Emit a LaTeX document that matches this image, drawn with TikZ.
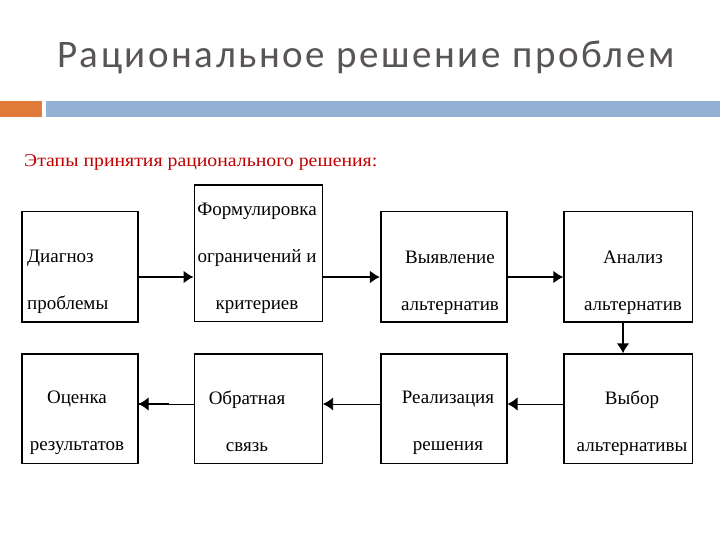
\documentclass[tikz,border=0pt]{standalone}
\usepackage{fontspec}
\setmainfont{Liberation Serif}
\newfontfamily\titlefont[LetterSpace=6.5]{Carlito}
\newfontfamily\wideserif[FakeStretch=1.1]{Liberation Serif}
\usetikzlibrary{arrows.meta}

\definecolor{titlegray}{HTML}{5A5555}
\definecolor{barorange}{HTML}{E07B39}
\definecolor{barblue}{HTML}{93B1D4}
\definecolor{subred}{HTML}{C00000}

\tikzset{
	stage/.style={draw, line width=1.6pt, inner sep=0pt},
	stagetext/.style={font=\fontsize{19}{47}\selectfont, align=center, inner sep=0pt},
	flow/.style={-{Latex[length=10pt,width=13pt]}, line width=1.8pt},
	back/.style={-{Latex[length=10pt,width=13pt]}, line width=0.8pt}
}

\begin{document}
\begin{tikzpicture}[x=1pt, y=-1pt]
	\useasboundingbox (0,0) rectangle (720,540);

	% title and bar
	\node[font=\titlefont\fontsize{39}{39}\selectfont, text=titlegray, anchor=base west, inner sep=0pt] (title) at (57,68) {Рациональное решение проблем};
	\fill[barorange] (0,101) rectangle (42,117);
	\fill[barblue] (46,101) rectangle (720,117);

	\node[font=\wideserif\fontsize{18}{18}\selectfont, text=subred, anchor=west, inner sep=0pt] (stages) at (24,162) {Этапы принятия рационального решения:};

	% first row
	\node[stage, minimum width=116pt, minimum height=110pt] (diag) at (79.7,266.7) {};
	\node[stage, minimum width=128pt, minimum height=136.7pt] (form) at (258.3,253.3) {};
	\node[stage, minimum width=126pt, minimum height=110pt] (reveal) at (443.7,266.7) {};
	\node[stage, minimum width=128.3pt, minimum height=110pt] (anal) at (628.2,266.7) {};

	% second row
	\node[stage, minimum width=116pt, minimum height=109.3pt] (assess) at (79.7,408.7) {};
	\node[stage, minimum width=128pt, minimum height=109.3pt] (feedback) at (258.3,408.7) {};
	\node[stage, minimum width=126pt, minimum height=109.3pt] (impl) at (443.7,408.7) {};
	\node[stage, minimum width=128.3pt, minimum height=109.3pt] (choice) at (628.2,408.7) {};

	% texts
	\node[stagetext, align=left, anchor=west] (diag-t) at (27,282) {Диагноз\\проблемы};
	\node[stagetext] (form-t) at (257,258) {Формулировка\\ограничений и\\критериев};
	\node[stagetext] (reveal-t) at (450,283) {Выявление\\альтернатив};
	\node[stagetext] (anal-t) at (633,283) {Анализ\\альтернатив};
	\node[stagetext] (assess-t) at (77,423) {Оценка\\результатов};
	\node[stagetext] (feedback-t) at (247,421) {Обратная\\связь};
	\node[stagetext] (impl-t) at (448,423) {Реализация\\решения};
	\node[stagetext] (choice-t) at (632,423) {Выбор\\альтернативы};

	% connectors
	\coordinate (row1) at (0,277);
	\coordinate (row2) at (0,404);
	\coordinate (col4) at (623,0);
	\draw[flow] (diag.east |- row1) -- (form.west |- row1);
	\draw[flow] (form.east |- row1) -- (reveal.west |- row1);
	\draw[flow] (reveal.east |- row1) -- (anal.west |- row1);
	\draw[flow] (anal.south -| col4) -- (choice.north -| col4);
	\draw[back] (choice.west |- row2) -- (impl.east |- row2);
	\draw[back] (impl.west |- row2) -- (feedback.east |- row2);
	\draw[back] (feedback.west |- row2) -- (assess.east |- row2);
	\draw[line width=1.8pt] (assess.east |- row2) -- ++(30,0);
\end{tikzpicture}
\end{document}
